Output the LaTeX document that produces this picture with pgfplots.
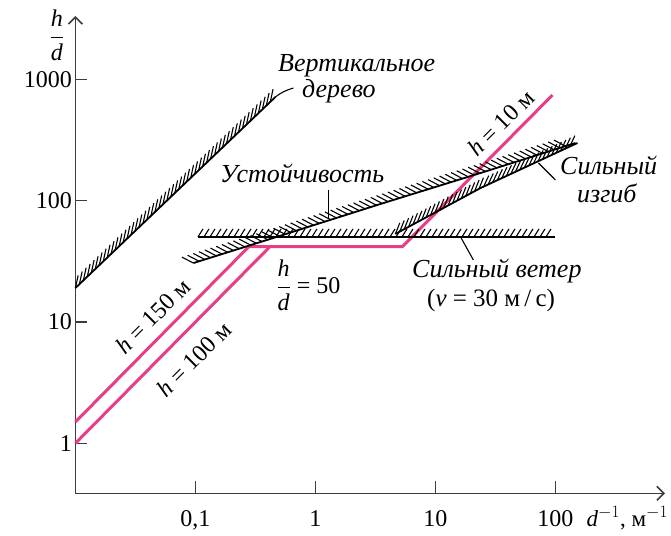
\documentclass[border=0pt]{standalone}
\usepackage{fontspec}
\setmainfont{Liberation Serif}
\usepackage{pgfplots}
\pgfplotsset{compat=1.18}
\usetikzlibrary{decorations.pathreplacing,arrows.meta}
\definecolor{pinkline}{RGB}{232,62,134}
\definecolor{axgray}{RGB}{60,60,60}
\newcommand{\lab}{\fontsize{26}{30}\selectfont\itshape}
\newcommand{\tlab}{\fontsize{24}{27}\selectfont}
\begin{document}
\begin{tikzpicture}
\useasboundingbox (-75.4pt,-41.7pt) rectangle (595.6pt,493.3pt);
\begin{axis}[
  at={(0pt,0pt)}, anchor=south west,
  scale only axis, width=589.6pt, height=477.3pt,
  xmode=log, ymode=log,
  xmin=0.01, xmax=818.5, ymin=0.387, ymax=3332,
  axis lines=left,
  axis line style={line width=1.6pt, axgray, -{Straight Barb[length=7pt,width=14pt,line width=1.6pt]}},
  xtick={0.1,1,10,100}, xticklabels={0{,}1,1,10,100},
  ytick={1,10,100,1000}, yticklabels={1,10,100,1000},
  minor tick style={draw=none},
  tick align=inside, major tick length=12pt,
  major tick style={line width=1.4pt, axgray},
  tick label style={font=\tlab},
  xticklabel style={yshift=-14pt},
  clip=false,
]
% pink lines (h = 150 m, h = 100 m, h = 10 m, h/d cap)
\addplot[pinkline, line width=3pt] coordinates {(0.01,1.5) (0.2787,41.8) (5.3,41.8) (94.4,743)};
\addplot[pinkline, line width=3pt] coordinates {(0.01,1.0) (0.418,41.8)};
% vertical tree
\addplot[black, line width=1.8pt, postaction={decorate, draw, line width=1.1pt, decoration={border, segment length=5.5pt, amplitude=13pt, angle=34}}] coordinates {(0.01,19.06) (0.464,716)};
\draw[black, line width=1.1pt] (axis cs:0.464,716) to[bend left=10] (axis cs:0.655,849);
% strong wind
\addplot[black, line width=1.8pt, postaction={decorate, draw, line width=1.1pt, decoration={border, segment length=6pt, amplitude=9.5pt, angle=58}}] coordinates {(0.105,50.2) (100,50.2)};
\draw[black, line width=1.1pt] (axis cs:16.2,50.2) -- (axis cs:20.7,32.5);
% stability
\addplot[black, line width=1.8pt, postaction={decorate, draw, line width=1.1pt, decoration={border, segment length=6pt, amplitude=13pt, angle=135}}] coordinates {(0.0962,30.6) (0.447,49.3) (3.48,93.9) (23.7,169) (146.8,299)};
\draw[black, line width=1.1pt] (axis cs:1.283,122.5) -- (axis cs:1.283,70.7);
% strong bending
\addplot[black, line width=1.8pt, postaction={decorate, draw, line width=1.1pt, decoration={border, segment length=5pt, amplitude=12pt, angle=40}}] coordinates {(4.64,53.2) (23.7,127) (152.5,299)};
\draw[black, line width=1.1pt] (axis cs:72.2,204.7) -- (axis cs:100,148.2);
\end{axis}
% labels
\node[anchor=base west, inner sep=0pt, font=\lab] at (202.6pt,421.3pt) {Вертикальное};
\node[anchor=base west, inner sep=0pt, font=\lab] at (226.6pt,395.3pt) {дерево};
\node[anchor=base west, inner sep=0pt, font=\lab] at (144.6pt,310.3pt) {Устойчивость};
\node[anchor=base west, inner sep=0pt, font=\lab] at (484.6pt,318.3pt) {Сильный};
\node[anchor=base west, inner sep=0pt, font=\lab] at (501.6pt,290.3pt) {изгиб};
\node[anchor=base west, inner sep=0pt, font=\lab] at (336.6pt,215.3pt) {Сильный ветер};
\node[anchor=base west, inner sep=0pt, font=\fontsize{25}{28}\selectfont] at (351.6pt,186.3pt) {(\textit{v} = 30 м\,/\,с)};
\node[inner sep=0pt, font=\tlab] at (233.1pt,208.3pt) {$\displaystyle\frac{\textit{h}}{\textit{d}}$ = 50};
\node[inner sep=0pt, font=\tlab, rotate=45] at (77.6pt,177.3pt) {\textit{h} = 150 м};
\node[inner sep=0pt, font=\tlab, rotate=45] at (118.6pt,134.3pt) {\textit{h} = 100 м};
\node[inner sep=0pt, font=\tlab, rotate=45] at (425.4pt,370.5pt) {\textit{h} = 10 м};
\node[anchor=west, inner sep=0pt, font=\fontsize{23}{26}\selectfont] at (511pt,-24.7pt) {\textit{d}$^{-1}$, м$^{-1}$};
\node[inner sep=0pt, font=\tlab] at (-18.4pt,458.3pt) {$\displaystyle\frac{\textit{h}}{\textit{d}}$};
\end{tikzpicture}
\end{document}
